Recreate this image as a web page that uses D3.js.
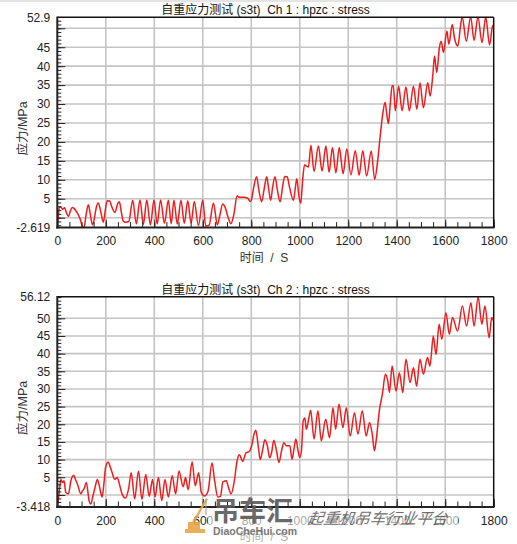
<!DOCTYPE html>
<html>
<head>
<meta charset="utf-8">
<script src="https://cdn.jsdelivr.net/npm/d3@7"></script>
<style>
  html, body { margin: 0; padding: 0; background: #fff; }
  svg { display: block; font-family: "Liberation Sans", Arial, "Noto Sans CJK SC", sans-serif; }
  .pre { white-space: pre; }
</style>
</head>
<body>
<svg id="chart" width="517" height="544"></svg>
<script>
// ---- data ----
const xTickLabels = [0, 200, 400, 600, 800, 1000, 1200, 1400, 1600, 1800];
const xLabel = "时间  /  S";
const yLabel = "应力/MPa";

// Ch 1
const ch1Title = "自重应力测试 (s3t)  Ch 1 : hpzc : stress";
const ch1YDomain = [-2.619, 52.9];
const ch1YTicks = [-2.619, 5, 10, 15, 20, 25, 30, 35, 40, 45, 52.9];
const ch1Grid = [0, 5, 10, 15, 20, 25, 30, 35, 40, 45, 50];
const ch1Points = [
  [0,-1.8],[3,-0.5],[8,2.6],[14,2.9],[22,2.2],[30,2.6],[38,1.2],[46,0.3],[54,1.8],[62,2.7],[70,2.4],
  [80,1.5],[94,-0.3],[104,-2.4],[110,-2.7],[118,0.5],[128,3.4],[136,1.0],[145,-1.9],[152,-0.5],
  [160,2.5],[169,3.9],[178,2.0],[190,-1.2],[198,2.0],[206,4.5],[216,4.4],[224,3.0],[238,1.4],
  [248,3.5],[256,4.2],[264,1.5],[272,-0.9],[282,-1.2],[295,-1.0],
  [311,4.6],[326,-1.6],[341,4.7],[355,-1.8],[369,4.7],[384,-1.9],[399,4.7],[412,-1.7],[426,4.7],
  [442,-1.5],[458,4.6],[470,-1.6],[481,4.6],[495,-1.7],[510,4.6],[524,-1.5],[538,4.5],[552,-1.4],
  [565,4.3],[582,-2.1],[600,4.7],[612,-2.2],[626,-2.0],[644,3.9],[660,-1.9],[670,0.5],[682,3.6],
  [692,2.8],[704,0.2],[716,-1.6],[728,0.8],[742,5.8],[750,5.4],[770,5.4],[785,5.2],[795,4.3],
  [800,4.6],[810,8.0],[822,10.8],[832,7.0],[843,4.2],[853,7.5],[864,10.8],[872,7.5],[880,4.6],
  [888,8.0],[898,10.8],[908,7.2],[919,4.2],[930,8.5],[938,10.9],[948,10.8],[958,8.0],[974,4.6],
  [982,8.0],[988,10.3],[996,6.0],[1004,3.8],
  [1012,10.0],[1020,14.0],[1028,13.6],[1036,13.4],[1046,19.1],[1059,12.2],[1077,18.9],[1092,12.3],
  [1108,18.9],[1121,12.0],[1135,18.5],[1149,11.8],[1163,18.5],[1179,11.6],[1194,18.1],[1211,11.3],
  [1229,17.7],[1245,11.2],[1260,17.7],[1276,11.0],[1295,17.6],[1309,10.1],[1321,14.8],[1331,21.0],
  [1342,27.2],[1352,30.5],[1358,27.8],[1366,24.8],[1372,29.0],[1381,34.7],[1386,34.9],[1394,28.2],
  [1408,34.7],[1422,28.2],[1438,34.5],[1452,28.2],[1469,34.7],[1483,28.6],[1496,35.6],[1510,29.0],
  [1528,35.6],[1538,32.1],[1549,37.8],[1556,42.7],[1565,38.3],[1576,44.9],[1583,46.6],[1593,43.6],
  [1607,49.3],[1615,45.8],[1629,51.0],[1638,47.5],[1652,45.3],[1663,50.5],[1670,53.0],[1687,46.6],
  [1705,53.0],[1719,46.8],[1735,53.0],[1752,46.2],[1767,53.0],[1783,45.6],[1794,50.2],[1800,51.0]
];

// Ch 2
const ch2Title = "自重应力测试 (s3t)  Ch 2 : hpzc : stress";
const ch2YDomain = [-3.418, 56.12];
const ch2YTicks = [-3.418, 5, 10, 15, 20, 25, 30, 35, 40, 45, 50, 56.12];
const ch2Grid = [0, 5, 10, 15, 20, 25, 30, 35, 40, 45, 50];
const ch2Points = [
  [0,-2.5],[4,-1.5],[9,1.5],[15,4.4],[22,3.5],[28,4.0],[35,0.7],[46,0.3],[56,4.0],[68,5.6],[74,4.5],
  [83,3.1],[97,0.3],[104,1.2],[110,1.7],[120,3.5],[131,-1.6],[138,-2.6],[147,-0.3],[157,2.5],
  [165,4.4],[172,3.0],[179,0.7],[185,-0.6],[192,3.0],[199,7.7],[210,9.3],[218,8.0],[224,6.8],
  [237,4.4],[247,4.9],[256,3.1],[267,0.3],[281,-0.9],[294,1.7],[305,6.3],[319,-1.1],[335,6.8],
  [349,-1.3],[365,5.8],[379,-0.4],[393,4.4],[403,-0.6],[417,4.9],[431,-1.6],[444,4.4],[458,-0.6],
  [474,5.4],[488,0.3],[502,6.8],[519,2.3],[529,4.9],[540,1.5],[556,9.4],[569,2.6],[583,6.3],
  [594,0.7],[608,-0.3],[622,1.1],[638,9.1],[649,4.0],[662,-0.6],[673,-0.4],[683,3.7],[697,4.0],
  [706,2.1],[717,0.3],[731,4.4],[741,9.5],[751,11.4],[765,9.5],[778,11.9],[792,12.3],[801,13.7],
  [812,17.4],[819,18.3],[829,13.7],[837,10.0],[847,12.8],[856,15.6],[867,13.7],[876,10.5],
  [884,12.0],[893,15.5],[904,12.5],[914,9.2],[925,12.5],[934,14.8],[945,13.9],[959,13.9],
  [968,10.1],[975,12.5],[984,15.8],[993,12.5],[1000,10.6],[1007,12.5],[1014,20.9],[1021,21.8],
  [1027,18.6],[1038,21.9],[1045,24.0],[1059,15.8],[1075,23.8],[1089,15.3],[1107,21.4],[1123,16.2],
  [1137,24.7],[1148,18.6],[1162,25.7],[1178,19.1],[1192,24.7],[1208,16.7],[1226,23.3],[1240,17.2],
  [1258,23.8],[1274,16.7],[1288,20.5],[1299,17.2],[1308,12.5],[1315,15.3],[1329,24.2],[1342,29.0],
  [1353,34.2],[1363,32.3],[1370,29.0],[1381,36.5],[1397,29.4],[1411,34.6],[1425,29.0],[1438,38.4],
  [1455,31.8],[1469,36.0],[1482,30.8],[1496,38.4],[1510,34.2],[1527,38.9],[1537,36.5],[1551,45.0],
  [1562,39.8],[1575,48.3],[1586,44.1],[1603,51.6],[1617,45.5],[1630,50.2],[1651,46.4],[1671,53.5],
  [1688,47.8],[1706,54.4],[1719,47.8],[1736,56.0],[1751,48.3],[1764,53.5],[1781,44.5],[1792,50.2],
  [1800,49.0]
];

// ---- drawing ----
const svg = d3.select("#chart");
const plotLeft = 57.3, plotRight = 493.7, plotH = 210.3;
const tickColor = "#222";

// faint line along the top of the image
svg.append("line").attr("x1", 0).attr("x2", 517).attr("y1", 1).attr("y2", 1)
  .attr("stroke", "#e4e4e4").attr("stroke-width", 2);

function drawPanel(top, title, yDomain, yTicks, gridVals, points, id) {
  const bottom = top + plotH;
  const x = d3.scaleLinear().domain([0, 1800]).range([plotLeft, plotRight]);
  const y = d3.scaleLinear().domain(yDomain).range([bottom, top]);
  const g = svg.append("g").attr("class", "panel-" + id);

  // grid
  g.append("g").selectAll("line").data(gridVals).join("line")
    .attr("x1", plotLeft).attr("x2", plotRight)
    .attr("y1", d => y(d)).attr("y2", d => y(d))
    .attr("stroke", "#c4c4c4").attr("stroke-width", 1.6);
  g.append("g").selectAll("line").data(xTickLabels.slice(1, -1)).join("line")
    .attr("x1", d => x(d)).attr("x2", d => x(d))
    .attr("y1", top).attr("y2", bottom)
    .attr("stroke", "#c4c4c4").attr("stroke-width", 1.6);

  // signal
  g.append("clipPath").attr("id", "clip-" + id)
    .append("rect").attr("x", plotLeft).attr("y", top)
    .attr("width", plotRight - plotLeft).attr("height", plotH);
  const line = d3.line().x(d => x(d[0])).y(d => y(d[1])).curve(d3.curveMonotoneX);
  g.append("path").datum(points)
    .attr("clip-path", `url(#clip-${id})`)
    .attr("fill", "none").attr("stroke", "#f01c1c").attr("stroke-width", 1.5)
    .attr("d", line);

  // y axis: minor ticks, major ticks, labels
  const yMinor = d3.range(Math.ceil(yDomain[0]), Math.floor(yDomain[1]) + 1, 1);
  g.append("g").attr("transform", `translate(${plotLeft},0)`)
    .call(d3.axisLeft(y).tickValues(yMinor).tickSize(-4).tickFormat(""))
    .call(a => a.select(".domain").remove())
    .call(a => a.selectAll("line").attr("stroke", tickColor));
  g.append("g").attr("transform", `translate(${plotLeft},0)`)
    .call(d3.axisLeft(y).tickValues(gridVals).tickSize(-8).tickFormat(""))
    .call(a => a.select(".domain").remove())
    .call(a => a.selectAll("line").attr("stroke", tickColor));
  g.append("g").attr("transform", `translate(${plotLeft},0)`)
    .call(d3.axisLeft(y).tickValues(yTicks).tickSize(0).tickPadding(7).tickFormat(d => String(d)))
    .call(a => a.select(".domain").remove())
    .call(a => a.selectAll("text").attr("font-size", 12).attr("fill", "#222")
      .attr("font-family", "'Liberation Sans', Arial, sans-serif"));

  // x axis
  const xMinor = d3.range(0, 1801, 50);
  g.append("g").attr("transform", `translate(0,${bottom})`)
    .call(d3.axisBottom(x).tickValues(xMinor).tickSize(-5.5).tickFormat(""))
    .call(a => a.select(".domain").remove())
    .call(a => a.selectAll("line").attr("stroke", tickColor));
  g.append("g").attr("transform", `translate(0,${bottom})`)
    .call(d3.axisBottom(x).tickValues(xTickLabels).tickSize(-8).tickPadding(9).tickFormat(d => String(d)))
    .call(a => a.select(".domain").remove())
    .call(a => a.selectAll("line").attr("stroke", tickColor))
    .call(a => a.selectAll("text").attr("font-size", 12).attr("fill", "#222")
      .attr("font-family", "'Liberation Sans', Arial, sans-serif"));

  // frame
  g.append("line").attr("x1", plotLeft).attr("x2", plotRight).attr("y1", top).attr("y2", top)
    .attr("stroke", "#111").attr("stroke-width", 1.5);
  g.append("line").attr("x1", plotRight).attr("x2", plotRight).attr("y1", top).attr("y2", bottom)
    .attr("stroke", "#111").attr("stroke-width", 1.5);
  g.append("line").attr("x1", plotLeft).attr("x2", plotLeft).attr("y1", top - 0.7).attr("y2", bottom + 1)
    .attr("stroke", "#222").attr("stroke-width", 2);
  g.append("line").attr("x1", plotLeft - 1).attr("x2", plotRight + 0.7).attr("y1", bottom).attr("y2", bottom)
    .attr("stroke", "#222").attr("stroke-width", 2);

  // titles
  g.append("text").attr("class", "pre")
    .attr("x", 265.5).attr("y", top - 3)
    .attr("text-anchor", "middle").attr("font-size", 12).attr("fill", "#111")
    .text(title);
  g.append("text").attr("class", "pre")
    .attr("x", 264).attr("y", bottom + 34)
    .attr("text-anchor", "middle").attr("font-size", 12).attr("fill", "#333")
    .text(xLabel);
  g.append("text")
    .attr("transform", `translate(27,${top + plotH / 2 + 6}) rotate(-90)`)
    .attr("text-anchor", "middle").attr("font-size", 12.5).attr("fill", "#333")
    .text(yLabel);
}

drawPanel(17.3, ch1Title, ch1YDomain, ch1YTicks, ch1Grid, ch1Points, "c1");
drawPanel(296.7, ch2Title, ch2YDomain, ch2YTicks, ch2Grid, ch2Points, "c2");

// ---- watermark overlay ----
const wm = svg.append("g").attr("class", "watermark");
wm.append("rect").attr("x", 208).attr("y", 509).attr("width", 250).attr("height", 35)
  .attr("fill", "#fff").attr("opacity", 0.6);
// crane icon
wm.append("path")
  .attr("d", "M185,533 h20 v-4 h-20 z M188,529 v-7 h12 v7 z M192,522 L206,498 L208,499 L195,522 z")
  .attr("fill", "#e7a548").attr("opacity", 0.9);
wm.append("line").attr("x1", 206).attr("x2", 206).attr("y1", 499).attr("y2", 515)
  .attr("stroke", "#9a9a9a").attr("stroke-width", 1);
wm.append("text").attr("x", 212).attr("y", 521)
  .attr("font-family", "'Noto Sans CJK SC', sans-serif").attr("font-size", 27).attr("font-weight", 700)
  .attr("fill", "#5a5a5a").attr("opacity", 0.9)
  .text("吊车汇");
wm.append("text").attr("x", 213).attr("y", 535)
  .attr("font-size", 10.5).attr("font-weight", 700).attr("fill", "#6a6a6a").attr("opacity", 0.9)
  .text("DiaoCheHui.com");
wm.append("text").attr("x", 308).attr("y", 524)
  .attr("font-family", "'Noto Sans CJK SC', sans-serif").attr("font-size", 15.5)
  .attr("font-style", "italic").attr("fill", "#555").attr("opacity", 0.85)
  .attr("transform", "skewX(-8) translate(73,0)")
  .text("起重机吊车行业平台");
</script>
</body>
</html>
